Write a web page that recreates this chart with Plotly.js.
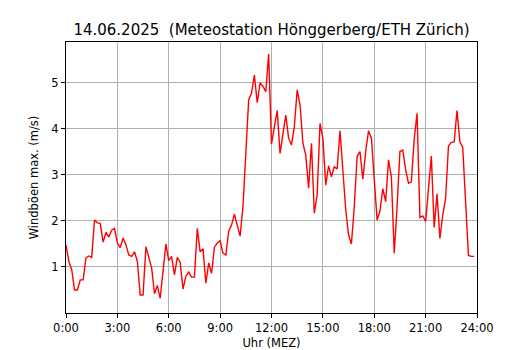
<!DOCTYPE html>
<html>
<head>
<meta charset="utf-8">
<script src="https://cdn.plot.ly/plotly-3.0.1.min.js"></script>
<style>html,body{margin:0;padding:0;background:#fff;}#chart{width:530px;height:350px;}</style>
</head>
<body>
<div id="chart"></div>
<script>
// Wind gust maxima (m/s), 10-minute intervals starting 00:00
const gustValues = [
  1.48, 1.12, 0.94, 0.50, 0.50, 0.72, 0.72, 1.20, 1.24, 1.21, 2.02, 1.96,
  1.95, 1.54, 1.75, 1.65, 1.80, 1.84, 1.52, 1.42, 1.63, 1.48, 1.26, 1.23,
  1.33, 1.12, 0.39, 0.39, 1.44, 1.21, 0.98, 0.42, 0.60, 0.32, 0.98, 1.50,
  1.14, 1.23, 0.83, 1.21, 1.10, 0.52, 0.80, 0.89, 0.78, 0.78, 1.84, 1.33,
  1.40, 0.65, 1.09, 0.86, 1.43, 1.52, 1.57, 1.30, 1.26, 1.78, 1.91, 2.15,
  1.91, 1.67, 2.31, 3.48, 4.63, 4.78, 5.17, 4.57, 5.00, 4.93, 4.81, 5.63,
  3.67, 4.05, 4.40, 3.47, 3.85, 4.30, 3.80, 3.65, 4.05, 4.85, 4.52, 3.69,
  3.43, 2.71, 3.69, 2.17, 2.57, 4.12, 3.80, 2.78, 3.20, 2.96, 3.18, 3.13,
  3.96, 3.00, 2.25, 1.70, 1.50, 2.31, 3.40, 3.51, 2.91, 3.51, 3.96, 3.80,
  2.90, 2.02, 2.22, 2.70, 2.42, 3.33, 2.96, 1.30, 2.31, 3.51, 3.54, 3.11,
  2.82, 2.85, 3.78, 4.34, 2.08, 2.11, 1.99, 2.67, 3.41, 1.86, 2.59, 1.62,
  2.13, 2.49, 3.63, 3.71, 3.72, 4.40, 3.72, 3.60, 2.42, 1.25, 1.23, 1.23
];
const sampleStepMinutes = 10;
const timeHours = gustValues.map((_, i) => i * sampleStepMinutes / 60);

const xTickVals = [0, 3, 6, 9, 12, 15, 18, 21, 24];
const xTickLabels = ["0:00", "3:00", "6:00", "9:00", "12:00", "15:00", "18:00", "21:00", "24:00"];
const yTickVals = [1, 2, 3, 4, 5];
const yTickLabels = ["1", "2", "3", "4", "5"];

const titleText = "14.06.2025  (Meteostation Hönggerberg/ETH Zürich)";
const xTitle = "Uhr (MEZ)";
const yTitle = "Windböen max. (m/s)";

const font = "DejaVu Sans, sans-serif";

const trace = {
  x: timeHours,
  y: gustValues,
  type: "scatter",
  mode: "lines",
  line: {color: "#ff0000", width: 1.4},
  hoverinfo: "skip"
};

const axisCommon = {
  showline: true,
  linecolor: "#000",
  linewidth: 1,
  mirror: true,
  ticks: "outside",
  ticklen: 4,
  tickwidth: 1,
  tickcolor: "#000",
  showgrid: true,
  gridcolor: "#b0b0b0",
  gridwidth: 1,
  zeroline: false,
  tickfont: {family: font, size: 11.5, color: "#000"},
  tickmode: "array"
};

const layout = {
  width: 530,
  height: 350,
  margin: {l: 66, r: 53, t: 42, b: 37},
  paper_bgcolor: "#fff",
  plot_bgcolor: "#fff",
  showlegend: false,
  title: {
    text: titleText,
    font: {family: font, size: 15, color: "#000"},
    x: 0.5, xref: "paper", xanchor: "center",
    y: 1, yref: "paper", yanchor: "bottom",
    pad: {b: 7}
  },
  xaxis: Object.assign({}, axisCommon, {
    range: [0, 24],
    tickvals: xTickVals,
    ticktext: xTickLabels,
    title: {text: xTitle, font: {family: font, size: 11.5, color: "#000"}, standoff: 7}
  }),
  yaxis: Object.assign({}, axisCommon, {
    range: [0, 5.89],
    tickvals: yTickVals,
    ticktext: yTickLabels,
    title: {text: yTitle, font: {family: font, size: 11.5, color: "#000"}, standoff: 10}
  })
};

Plotly.newPlot("chart", [trace], layout, {staticPlot: true, displayModeBar: false});
</script>
</body>
</html>
